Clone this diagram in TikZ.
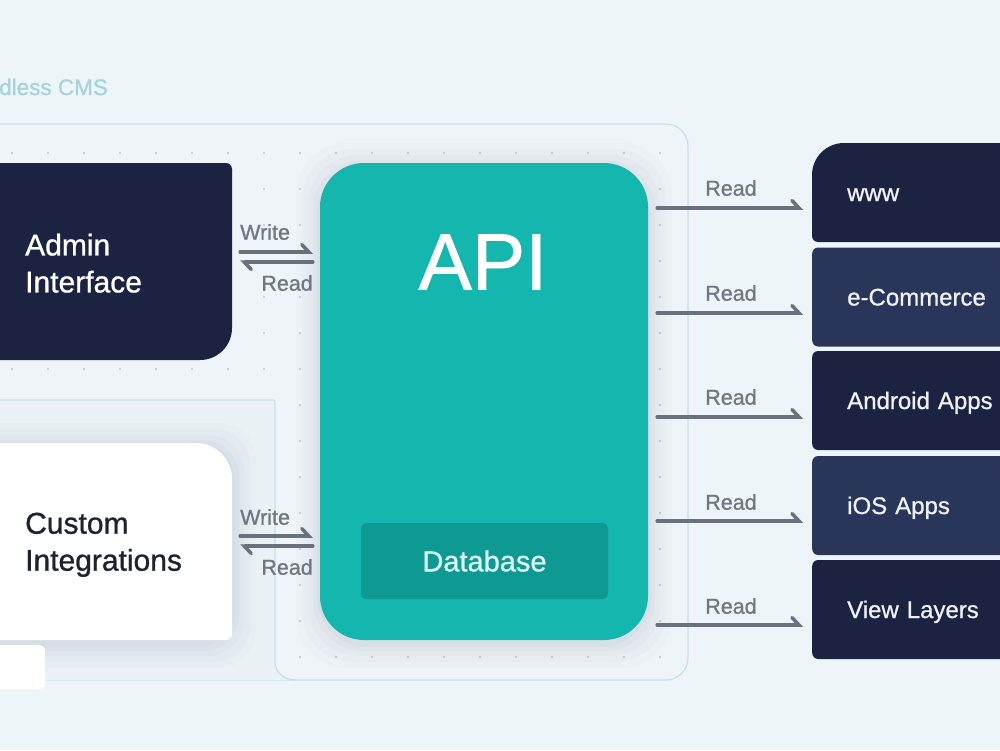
\documentclass[tikz,border=0pt]{standalone}
\usepackage{fontspec}
\setmainfont{Liberation Sans}[FakeBold=0.9]
\usetikzlibrary{arrows.meta,calc}
\definecolor{bg}{HTML}{EDF5F8}
\definecolor{framefill}{HTML}{EEF4F7}
\definecolor{innerfill}{HTML}{EAF2F5}
\definecolor{frameline}{HTML}{C8DFE9}
\definecolor{dotc}{HTML}{B9C6CD}
\definecolor{navy}{HTML}{1B2341}
\definecolor{navylight}{HTML}{2A3659}
\definecolor{teal}{HTML}{14B6AD}
\definecolor{tealdark}{HTML}{0E9A92}
\definecolor{dbtext}{HTML}{DDF6F3}
\definecolor{arrowc}{HTML}{68717C}
\definecolor{labelc}{HTML}{6E7782}
\definecolor{titlec}{HTML}{A6D4DA}
\definecolor{darktext}{HTML}{1E2230}
\definecolor{rtext}{HTML}{EEF1F7}
\tikzset{
  conn/.style={draw=arrowc, line width=3.5pt, line cap=round,
    -{Straight Barb[harpoon, length=7pt, width=15pt, line cap=round]}},
  lbl/.style={text=labelc, font=\fontsize{21.5}{24}\selectfont, inner sep=0pt},
  boxarea/.style={rectangle, inner sep=0pt},
  bigtxt/.style={font=\fontsize{30}{37}\selectfont, align=left, inner sep=0pt, anchor=north west},
  rbox/.style={rectangle, rounded corners=6pt, minimum height=99pt, text width=160pt,
    inner xsep=35pt, inner ysep=0pt, align=left, anchor=west, text height=17pt, text depth=0pt,
    font=\fontsize{24}{28}\selectfont, text=rtext},
}
\begin{document}
\begin{tikzpicture}[x=1pt,y=-1pt]
\useasboundingbox (0,0) rectangle (1000,750);
\clip (0,0) rectangle (1000,750);
\fill[bg] (0,0) rectangle (1000,750);

% title
\node[text=titlec, font=\fontsize{22.5}{26}\selectfont, anchor=west, inner sep=0pt] (title) at (-1,87) {dless CMS};

% outer frame
\draw[frameline, line width=1.2pt, fill=framefill, rounded corners=22pt]
  (-40,124) -- (688,124) -- (688,680) -- (-40,680) -- cycle;
% inner frame
\fill[innerfill] (-40,400) -- (275,400) -- (275,662) to[out=-90,in=180] (295,680) -- (-40,680) -- cycle;
\draw[frameline, line width=1.2pt] (-40,400) -- (273,400) to[out=0,in=90] (275,402) -- (275,662) to[out=-90,in=180] (295,680);

% dot grid
\foreach \i in {0,...,18} {
  \foreach \j in {0,...,14} {
    \pgfmathsetmacro{\xx}{12+36*\i}
    \pgfmathsetmacro{\yy}{153+36*\j}
    \pgfmathparse{(\xx<275 && \yy>400) ? 0 : 1}
    \ifnum\pgfmathresult=1
      \fill[dotc] (\xx,\yy) circle (1.1pt);
    \fi
  }
}

% soft shadows
\foreach \s/\o in {24/0.012,18/0.014,12/0.016,7/0.018,3/0.02} {
  \fill[black!70!blue, opacity=\o, rounded corners=50pt] (320-\s,163-\s+4) rectangle (648+\s,640+\s+4);
  \fill[black!70!blue, opacity=\o, rounded corners=36pt] (-40,443-\s+4) rectangle (232+\s,640+\s+4);
}

% Admin box
\fill[navy] (-40,163) -- (226,163) .. controls (229.3,163) and (232,165.7) .. (232,169)
  -- (232,328) .. controls (232,345.7) and (217.7,360) .. (200,360) -- (-40,360) -- cycle;
\node[boxarea, minimum width=272pt, minimum height=197pt] (admin) at (96,261.5) {};
\node[bigtxt, text=white] (admintext) at (25,233.5) {Admin\\Interface};

% Custom box
\fill[white] (-40,443) -- (196,443) .. controls (215.9,443) and (232,459.1) .. (232,479)
  -- (232,634) .. controls (232,637.3) and (229.3,640) .. (226,640) -- (-40,640) -- cycle;
\node[boxarea, minimum width=272pt, minimum height=197pt] (custom) at (96,541.5) {};
\node[bigtxt, text=darktext] (customtext) at (25,512.5) {Custom\\Integrations};

% small white box
\node[rectangle, fill=white, rounded corners=6pt, minimum width=60pt, minimum height=44pt, inner sep=0pt] (small) at (15,667) {};

% API
\node[rectangle, fill=teal, rounded corners=44pt, minimum width=328pt, minimum height=477pt, inner sep=0pt] (api) at (484,401.5) {};
\node[text=white, font=\fontsize{80}{90}\selectfont, inner sep=0pt] (apitext) at (483,262) {API};
\node[rectangle, fill=tealdark, rounded corners=5pt, minimum width=247pt, minimum height=76pt, inner sep=0pt,
  text=dbtext, font=\fontsize{29}{32}\selectfont] (db) at (484.5,561) {Database};

% right boxes
\fill[navy] (1040,143) -- (844,143) .. controls (826.3,143) and (812,157.3) .. (812,175)
  -- (812,236) .. controls (812,239.3) and (814.7,242) .. (818,242) -- (1040,242) -- cycle;
\node[rbox] (www) at (812,192.5) {www};
\node[rbox, fill=navylight] (ecom) at (812,297) {e-Commerce};
\node[rbox, fill=navy] (android) at (812,400.5) {Android Apps};
\node[rbox, fill=navylight] (ios) at (812,505.5) {iOS Apps};
\node[rbox, fill=navy] (view) at (812,609.5) {View Layers};

% left connectors
\draw[conn] ($(admin.east)+(8,-9.5)$) -- ($(admin.east -| api.west)+(-7,-9.5)$);
\draw[conn] ($(admin.east -| api.west)+(-7,0.5)$) -- ($(admin.east)+(8,0.5)$);
\node[lbl, anchor=west] (w1) at (240,232) {Write};
\node[lbl, anchor=east] (r1) at (313,283) {Read};

\draw[conn] ($(custom.east)+(8,-5.5)$) -- ($(custom.east -| api.west)+(-7,-5.5)$);
\draw[conn] ($(custom.east -| api.west)+(-7,4.5)$) -- ($(custom.east)+(8,4.5)$);
\node[lbl, anchor=west] (w2) at (240,517) {Write};
\node[lbl, anchor=east] (r2) at (313,567) {Read};

% right connectors
\foreach \n/\dy/\ly in {www/15.5/188, ecom/16/293, android/16.5/397, ios/15.5/502, view/15.5/606} {
  \draw[conn] ($(api.east |- \n.west)+(9,\dy)$) -- ($(\n.west)+(-9,\dy)$);
  \node[lbl] (read-\n) at (731,\ly) {Read};
}
\end{tikzpicture}
\end{document}
